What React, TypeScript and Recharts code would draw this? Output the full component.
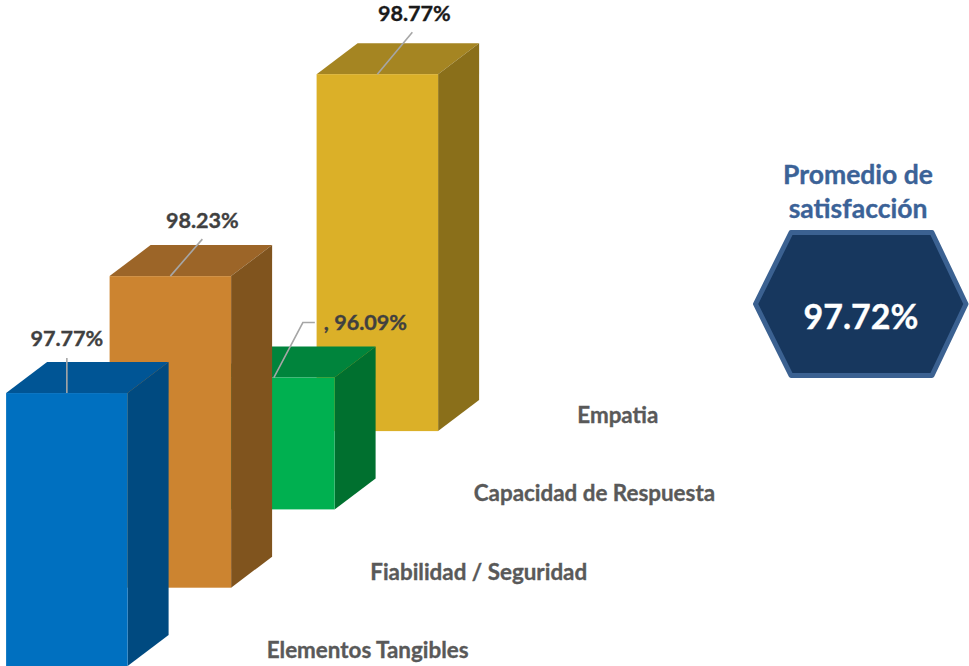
import React from "react";
import { ComposedChart, Bar, XAxis, YAxis, LabelList } from "recharts";

// Drawn back to front: the reversed axis puts the last row at the front-left.
const categories = ["Empatia", "Capacidad de Respuesta", "Fiabilidad / Seguridad", "Elementos Tangibles"];
const satisfaction = [98.77, 96.09, 98.23, 97.77];
const labelTexts = ["98.77%", ", 96.09%", "98.23%", "97.77%"];
const faceColors = ["#DBB028", "#00B050", "#CC8430", "#0070C0"];
const topColors = ["#A58522", "#00843C", "#9C6528", "#005595"];
const sideColors = ["#8A6F1A", "#00702F", "#80541E", "#004A80"];
const labelColors = ["#1A1A1A", "#404040", "#404040", "#404040"];
const averageTitle = ["Promedio de", "satisfacción"];
const averageValue = "97.72%";

const data = categories.map((name, i) => ({ name, value: satisfaction[i] }));

const FONT = "Lato, 'Open Sans', sans-serif";
const DEPTH_STEP = 78.3;
const BAR_WIDTH = 121.5;
const DX = 41;
const DY = 31;
const depthOf = (index: number) => categories.length - 1 - index;

// leader: points relative to the front-top-centre of each bar; text anchor position
const leaders = [
  { pts: [[0, 0], [35, -42]], tx: 37, ty: -61, anchor: "middle" },
  { pts: [[0, 0], [29, -55], [41, -55]], tx: 50, ty: -56, anchor: "start" },
  { pts: [[0, 0], [32, -37]], tx: 32, ty: -56, anchor: "middle" },
  { pts: [[0, 0], [0, -35]], tx: 0, ty: -55, anchor: "middle" },
];

function Box3D(props: any) {
  const { x: bandX, y, width: bandW, height, index } = props;
  const x = bandX + bandW / 2 - BAR_WIDTH / 2;
  const width = BAR_WIDTH;
  const shift = depthOf(index) * DEPTH_STEP;
  const top = y - shift;
  const bottom = y + height - shift;
  const right = x + width;
  return (
    <g>
      <polygon
        points={`${x},${top} ${x + DX},${top - DY} ${right + DX},${top - DY} ${right},${top}`}
        fill={topColors[index]}
      />
      <polygon
        points={`${right},${top} ${right + DX},${top - DY} ${right + DX},${bottom - DY} ${right},${bottom}`}
        fill={sideColors[index]}
      />
      <rect x={x} y={top} width={width} height={bottom - top} fill={faceColors[index]} />
    </g>
  );
}

const heavy = { strokeWidth: 0.35, paintOrder: "stroke" } as any;

function BarLabel(props: any) {
  const { x, y, width, index } = props;
  const cx = x + width / 2;
  const cy = y - depthOf(index) * DEPTH_STEP;
  const l = leaders[index];
  return (
    <g>
      <polyline
        points={l.pts.map((p) => `${cx + p[0]},${cy + p[1]}`).join(" ")}
        fill="none"
        stroke="#A6A6A6"
        strokeWidth={1.6}
      />
      <text
        x={cx + l.tx}
        y={cy + l.ty}
        textAnchor={l.anchor as any}
        dominantBaseline="central"
        fontFamily={FONT}
        fontWeight={700}
        fontSize={21.6}
        fill={labelColors[index]}
        stroke={labelColors[index]}
        {...heavy}
      >
        {labelTexts[index]}
      </text>
    </g>
  );
}

function DepthTick(props: any) {
  const { x, y, payload, index } = props;
  return (
    <text
      x={x + 200}
      y={y - 24.5 - depthOf(index) * DEPTH_STEP}
      textAnchor="start"
      dominantBaseline="central"
      fontFamily={FONT}
      fontWeight={700}
      fontSize={22.4}
      fill="#595959"
      stroke="#595959"
      {...heavy}
    >
      {payload.value}
    </text>
  );
}

export default function App() {
  return (
    <div style={{ position: "absolute", left: 0, top: 0, width: 969, height: 666, overflow: "hidden", background: "#fff" }}>
      <ComposedChart
        width={969}
        height={706}
        data={data}
        margin={{ top: 0, right: 540, bottom: 0, left: 15 }}
      >
        <XAxis
          dataKey="name"
          reversed
          height={40}
          axisLine={false}
          tickLine={false}
          tick={(p: any) => <DepthTick {...p} />}
          interval={0}
        />
        <YAxis hide domain={[94.52, 102.45]} allowDataOverflow />
        <Bar dataKey="value" shape={<Box3D />} isAnimationActive={false}>
          <LabelList dataKey="value" content={<BarLabel />} />
        </Bar>
      </ComposedChart>
      <svg width={969} height={666} style={{ position: "absolute", left: 0, top: 0, pointerEvents: "none" }}>
        <text x={858} y={174} textAnchor="middle" dominantBaseline="central" fontFamily={FONT} fontWeight={700} fontSize={26.5} fill="#3B6297" stroke="#3B6297" {...heavy}>
          {averageTitle[0]}
        </text>
        <text x={858} y={208} textAnchor="middle" dominantBaseline="central" fontFamily={FONT} fontWeight={700} fontSize={26.5} fill="#3B6297" stroke="#3B6297" {...heavy}>
          {averageTitle[1]}
        </text>
        <polygon points="791,232.5 932,232.5 966,304 932,375.5 791,375.5 755.5,304" fill="#17375E" stroke="#3B6191" strokeWidth={5} strokeLinejoin="round" />
        <text x={861} y={315} textAnchor="middle" dominantBaseline="central" fontFamily={FONT} fontWeight={700} fontSize={34} fill="#FFFFFF" stroke="#FFFFFF" {...heavy}>
          {averageValue}
        </text>
      </svg>
    </div>
  );
}
